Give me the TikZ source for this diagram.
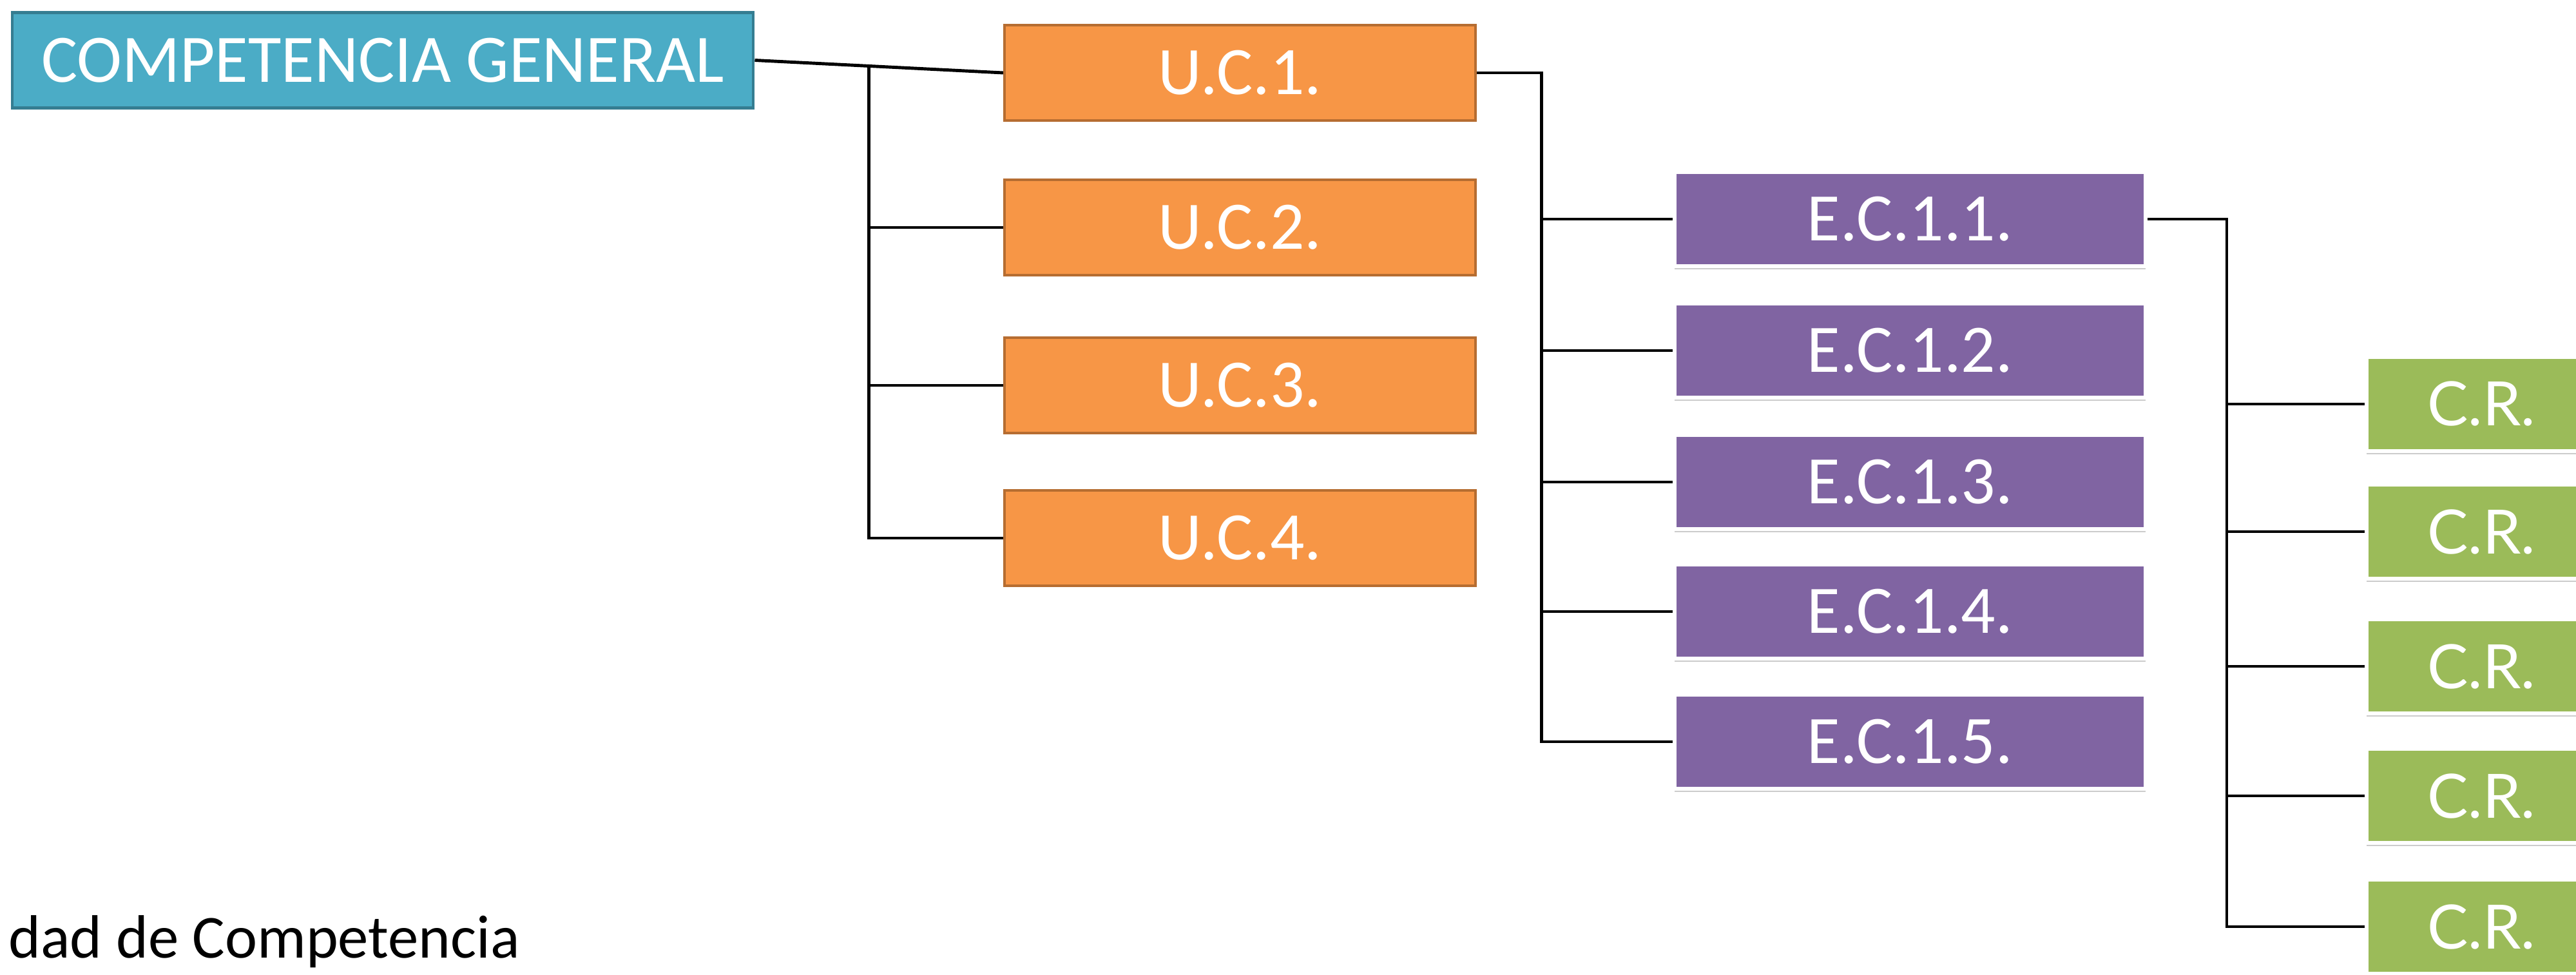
\documentclass[tikz,border=0pt]{standalone}
\usepackage{fontspec}
\setmainfont{Carlito}
\newfontfamily\crfont{Lato}
\usetikzlibrary{calc, shadows}

\definecolor{cgblue}{HTML}{4BACC6}
\definecolor{cgline}{HTML}{357D91}
\definecolor{ucorange}{HTML}{F79646}
\definecolor{ucline}{HTML}{B66D31}
\definecolor{ecpurple}{HTML}{8064A2}
\definecolor{crgreen}{HTML}{9BBB59}

\begin{document}
\begin{tikzpicture}[
        box/.style={rectangle, text=white, inner sep=0pt, font=\fontsize{30}{36}\selectfont},
        cgbox/.style={box, fill=cgblue, draw=cgline, line width=1.4pt, minimum width=11.5cm, minimum height=1.48cm},
        ucbox/.style={box, fill=ucorange, draw=ucline, line width=1.2pt, minimum width=7.31cm, minimum height=1.48cm},
        ecbox/.style={box, fill=ecpurple, draw=white, line width=1.7pt, minimum width=7.31cm, minimum height=1.46cm,
            drop shadow={shadow xshift=0pt, shadow yshift=-0.05cm, fill=black!40}},
        crbox/.style={ecbox, fill=crgreen, minimum width=3.56cm, font=\crfont\fontsize{27}{32}\selectfont},
        link/.style={line width=1.4pt, black}
    ]
            \useasboundingbox (0,0) rectangle (39.98,-15.13);

            \node[cgbox] (cg) at (5.94,-0.935) {COMPETENCIA GENERAL};

            \node[ucbox] (uc1) at (19.245,-1.13) {U.C.1.};
            \node[ucbox] (uc2) at (19.245,-3.53) {U.C.2.};
            \node[ucbox] (uc3) at (19.245,-5.98) {U.C.3.};
            \node[ucbox] (uc4) at (19.245,-8.35) {U.C.4.};

            \node[ecbox] (ec1) at (29.645,-3.40) {E.C.1.1.};
            \node[ecbox] (ec2) at (29.645,-5.44) {E.C.1.2.};
            \node[ecbox] (ec3) at (29.645,-7.48) {E.C.1.3.};
            \node[ecbox] (ec4) at (29.645,-9.49) {E.C.1.4.};
            \node[ecbox] (ec5) at (29.645,-11.51) {E.C.1.5.};

            \node[crbox] (cr1) at (38.51,-6.27) {C.R.};
            \node[crbox] (cr2) at (38.51,-8.25) {C.R.};
            \node[crbox] (cr3) at (38.51,-10.34) {C.R.};
            \node[crbox] (cr4) at (38.51,-12.35) {C.R.};
            \node[crbox] (cr5) at (38.51,-14.38) {C.R.};

            \node[anchor=base west, inner sep=0pt, font=\fontsize{27}{32}\selectfont] (note) at (0.13,-14.86) {dad de Competencia};

            % competencia general -> unidades
            \coordinate (b1) at ($(cg.east)!.46!(uc1.west)$);
            \draw[link] (cg.east) -- (uc1.west);
            \draw[link] (b1) |- (uc4.west);
            \draw[link] (b1 |- uc2.west) -- (uc2.west);
            \draw[link] (b1 |- uc3.west) -- (uc3.west);

            % U.C.1. -> elementos
            \coordinate (b2) at ($(uc1.east)+(1.0,0)$);
            \draw[link] (uc1.east) -- (b2) |- (ec5.west);
            \foreach \i in {1,...,4}
                \draw[link] (b2 |- ec\i.west) -- (ec\i.west);

            % E.C.1.1. -> criterios
            \coordinate (b3) at ($(ec1.east)+(1.23,0)$);
            \draw[link] (ec1.east) -- (b3) |- (cr5.west);
            \foreach \i in {1,...,4}
                \draw[link] (b3 |- cr\i.west) -- (cr\i.west);
        \end{tikzpicture}
\end{document}
